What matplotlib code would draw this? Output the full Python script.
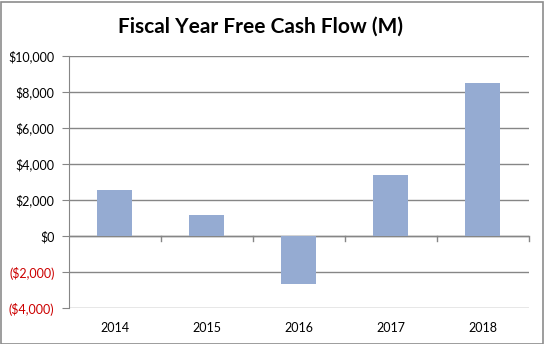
import matplotlib
matplotlib.use("Agg")
import matplotlib.pyplot as plt
from matplotlib.patches import Rectangle

years = ["2014", "2015", "2016", "2017", "2018"]
fcf = [2570, 1180, -2680, 3400, 8490]
yticks = [-4000, -2000, 0, 2000, 4000, 6000, 8000, 10000]
ytick_labels = ["($4,000)", "($2,000)", "$0", "$2,000", "$4,000", "$6,000", "$8,000", "$10,000"]

plt.rcParams['font.family'] = ['Lato', 'DejaVu Sans']

fig = plt.figure(figsize=(5.44, 3.44), dpi=100)
ax = fig.add_axes([68.5/544, 1 - 308/344, (528.5-68.5)/544, (308-56)/344])

x = list(range(len(years)))
ax.bar(x, fcf, width=0.39, color="#95abd2", zorder=3)

ax.set_xlim(-0.5, len(years) - 0.5)
ax.set_ylim(-4000, 10000)
ax.set_yticks(yticks)
ax.set_yticklabels(ytick_labels, fontsize=9)
for lbl, v in zip(ax.get_yticklabels(), yticks):
    lbl.set_color("#cc0000" if v < 0 else "black")

ax.grid(axis="y", color="#868686", linewidth=1, zorder=1)
ax.axhline(0, color="#868686", linewidth=1, zorder=2)

ax.set_xticks(x)
ax.set_xticklabels(years, fontsize=9)
ax.tick_params(axis="x", length=0, pad=10)
for b in [i + 0.5 for i in x]:
    ax.plot([b, b], [0, -300], color="#868686", linewidth=1, zorder=2, clip_on=False)

ax.tick_params(axis="y", length=5, color="#868686", pad=5)
for s in ["top", "right", "bottom"]:
    ax.spines[s].set_visible(False)
ax.spines["left"].set_color("#868686")

fig.text(260/544, 1 - 27/344, "Fiscal Year Free Cash Flow (M)", ha="center", va="center",
         fontsize=15, fontweight="bold")

fig.patches.append(Rectangle((0.5/544, 0.5/344), 542/544, 342/344, transform=fig.transFigure,
                             fill=False, edgecolor="#8c8c8c", linewidth=1.2))

fig.savefig("out.png", dpi=100)
